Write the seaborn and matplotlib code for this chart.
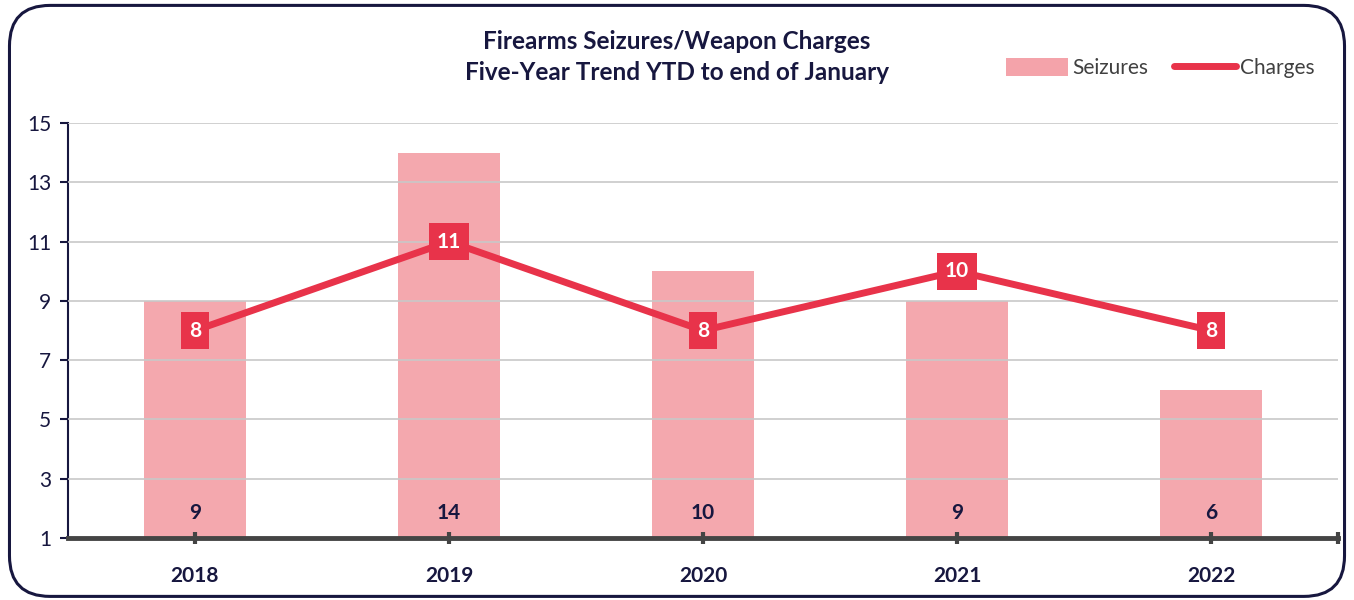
import numpy as np
import pandas as pd
import seaborn as sns
import matplotlib.pyplot as plt
from matplotlib.patches import FancyBboxPatch, Patch
from matplotlib.lines import Line2D

years = ["2018", "2019", "2020", "2021", "2022"]
seizures = [9, 14, 10, 9, 6]
charges = [8, 11, 8, 10, 8]
title = "Firearms Seizures/Weapon Charges\nFive-Year Trend YTD to end of January"

navy = "#17173f"
bar_col = "#f4a3aa"
line_col = "#e8334a"

sns.set_style("white")
plt.rcParams["font.family"] = ["Lato", "DejaVu Sans"]

df = pd.DataFrame({"year": years, "seizures": seizures, "charges": charges})
df["pos"] = range(len(df))

fig = plt.figure(figsize=(13.54, 6), dpi=100)
ax = fig.add_axes([0.0502, 0.1033, 0.9380, 0.6917])

# rounded frame around the whole chart
frame = FancyBboxPatch((0.007, 0.006), 0.986, 0.985,
                       boxstyle="round,pad=0,rounding_size=0.03",
                       transform=fig.transFigure, fill=False,
                       edgecolor=navy, linewidth=2.2, mutation_aspect=1354 / 600)
fig.patches.append(frame)

sns.barplot(data=df, x="year", y="seizures", color=bar_col, width=0.4,
            saturation=1, alpha=0.95, linewidth=0, edgecolor="none",
            ax=ax, zorder=1)
sns.lineplot(data=df, x="pos", y="charges", color=line_col, linewidth=5,
             ax=ax, zorder=4, solid_capstyle="round")

ax.set_xlim(-0.5, 4.5)
ax.set_ylim(1, 15)
ax.set_yticks(range(1, 16, 2))
ax.set_xticks(df["pos"])
ax.set_xticklabels(years, fontsize=15, fontweight="bold", color=navy)
ax.set_xlabel("")
ax.set_ylabel("")
ax.grid(axis="y", color="#c8c8c8", linewidth=1.2, zorder=2)
ax.set_axisbelow(False)

for s in ["top", "right"]:
    ax.spines[s].set_visible(False)
ax.spines["left"].set_color(navy)
ax.spines["left"].set_linewidth(1.5)
ax.spines["bottom"].set_color("#444444")
ax.spines["bottom"].set_linewidth(3.5)
ax.spines["bottom"].set_zorder(5)

ax.tick_params(axis="y", left=True, length=6, width=1.5, color=navy,
               labelsize=15, labelcolor=navy, pad=6)
ax.tick_params(axis="x", bottom=True, direction="inout", length=9, width=3,
               color="#444444", pad=16)
ax.set_xticks([4.5], minor=True)
ax.tick_params(axis="x", which="minor", bottom=True, direction="inout",
               length=9, width=3, color="#444444")

for p, s in zip(df["pos"], df["seizures"]):
    ax.text(p, 1.85, str(s), ha="center", va="center", fontsize=15,
            fontweight="bold", color=navy, zorder=6)

for p, c in zip(df["pos"], df["charges"]):
    ax.text(p, c, str(c), ha="center", va="center", fontsize=15,
            fontweight="bold", color="white", zorder=7,
            bbox=dict(boxstyle="square,pad=0.4", facecolor=line_col,
                      edgecolor="none"))

fig.text(0.5, 0.905, title, ha="center", va="center", fontsize=17.5,
         fontweight="bold", color=navy, linespacing=1.4)

handles = [Patch(facecolor=bar_col, edgecolor="none"),
           Line2D([0], [0], color=line_col, linewidth=5, solid_capstyle="round")]
fig.legend(handles, ["Seizures", "Charges"], loc="center right",
           bbox_to_anchor=(0.985, 0.887), ncol=2, frameon=False,
           fontsize=15, handlelength=3.0, handleheight=1.0, columnspacing=1.2,
           handletextpad=0.2, labelcolor="#404040")

fig.savefig("out.png", dpi=100)
